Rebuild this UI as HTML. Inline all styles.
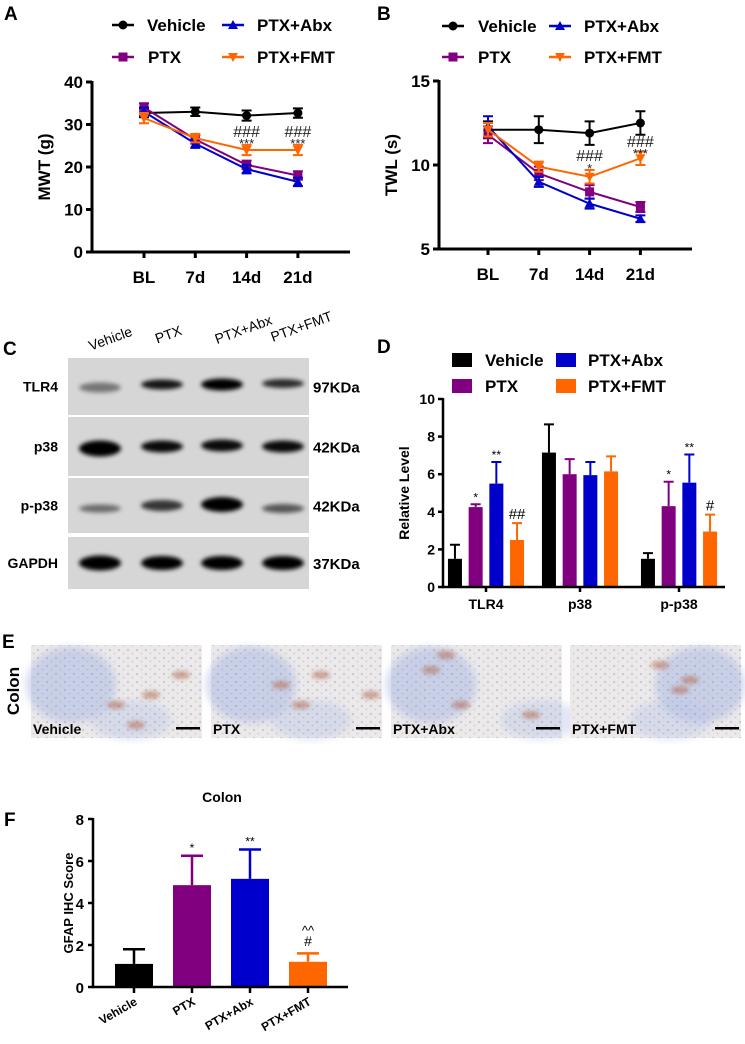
<!DOCTYPE html>
<html><head><meta charset="utf-8"><style>
body{margin:0;background:#fff}
svg{display:block;font-family:"Liberation Sans",Arial,sans-serif;font-weight:bold}
</style></head><body>
<svg id="fig" width="745" height="1044" viewBox="0 0 745 1044" xmlns="http://www.w3.org/2000/svg">
<defs>
<filter id="blur2" x="-30%" y="-100%" width="160%" height="300%"><feGaussianBlur stdDeviation="2.2"/></filter>
<filter id="blur4"><feGaussianBlur stdDeviation="4"/></filter>
<pattern id="cells" width="9" height="8" patternUnits="userSpaceOnUse">
<circle cx="2" cy="2" r="1.1" fill="#5d7fd0" fill-opacity="0.55"/>
<circle cx="6.5" cy="5.5" r="0.9" fill="#5d7fd0" fill-opacity="0.45"/>
</pattern>
</defs>
<g id="panelA"></g>
<g id="panelB"></g>
<g id="panelC"></g>
<g id="panelD"></g>
<g id="panelE"></g>
<g id="panelF"></g>
</svg>
<script>
// ---- data ----
const groups = ["Vehicle","PTX","PTX+Abx","PTX+FMT"];
const colors = ["#000000","#800080","#0000cc","#ff6600"];
const timeCats = ["BL","7d","14d","21d"];
const mwtVehicle = [32.7,33.0,32.1,32.7];
const mwtPTX = [34.0,26.5,20.5,18.0];
const mwtAbx = [33.0,25.5,19.5,16.5];
const mwtFMT = [31.5,26.8,24.0,24.0];
const mwtErr = [[1,1,1.2,1.1],[1,1,1,1],[1,1,1,1],[1.2,1,1.2,1.2]];
const mwtTicks = [0,10,20,30,40];
const twlVehicle = [12.1,12.1,11.9,12.5];
const twlPTX = [11.8,9.5,8.4,7.5];
const twlAbx = [12.3,9.0,7.7,6.8];
const twlFMT = [12.1,9.9,9.3,10.4];
const twlErr = [[0.5,0.8,0.7,0.7],[0.5,0.4,0.4,0.3],[0.6,0.3,0.3,0.2],[0.4,0.3,0.4,0.4]];
const twlTicks = [5,10,15];
const proteinCats = ["TLR4","p38","p-p38"];
const relVehicle = [1.5,7.15,1.5];
const relPTX = [4.25,6.0,4.3];
const relAbx = [5.5,5.95,5.55];
const relFMT = [2.5,6.15,2.95];
const relErrVehicle = [0.75,1.5,0.3];
const relErrPTX = [0.15,0.8,1.3];
const relErrAbx = [1.15,0.7,1.5];
const relErrFMT = [0.9,0.8,0.9];
const relTicks = [0,2,4,6,8,10];
const gfapValues = [1.1,4.85,5.15,1.2];
const gfapErr = [0.7,1.4,1.4,0.4];
const gfapTicks = [0,2,4,6,8];

const NS="http://www.w3.org/2000/svg";
function el(parent,tag,attrs,text){const e=document.createElementNS(NS,tag);for(const k in attrs)e.setAttribute(k,attrs[k]);if(text!==undefined)e.textContent=text;parent.appendChild(e);return e;}
function lin(d0,d1,r0,r1){return v=>r0+(v-d0)*(r1-r0)/(d1-d0);}

function marker(g,type,x,y,c){
  let m;
  if(type===0)m=el(g,"circle",{cx:x,cy:y,r:4.5,fill:c});
  else if(type===1)m=el(g,"rect",{x:x-4.5,y:y-4.5,width:9,height:9,fill:c});
  else if(type===2)m=el(g,"polygon",{points:`${x},${y-5} ${x-5},${y+4} ${x+5},${y+4}`,fill:c});
  else m=el(g,"polygon",{points:`${x},${y+5} ${x-5},${y-4} ${x+5},${y-4}`,fill:c});
  return m;
}

function lineChart(gid,cfg){
  const g=document.getElementById(gid);
  const y=lin(cfg.ymin,cfg.ymax,cfg.y0,cfg.y1);
  const x=i=>cfg.xs0+i*cfg.dx;
  const ya=el(g,"line",{x1:cfg.ax,y1:cfg.y1-1,x2:cfg.ax,y2:cfg.y0+1.5,stroke:"#000","stroke-width":3});
  
  
  const xa=el(g,"line",{x1:cfg.ax-1.5,y1:cfg.y0,x2:cfg.xend,y2:cfg.y0,stroke:"#000","stroke-width":3});
  
  
  cfg.ticks.forEach(t=>{
    el(g,"line",{x1:cfg.ax-6,y1:y(t),x2:cfg.ax,y2:y(t),stroke:"#000","stroke-width":3});
    const tl=el(g,"text",{x:cfg.ax-9,y:y(t)+6,"text-anchor":"end","font-size":17},String(t));
    
    
  });
  timeCats.forEach((c,i)=>{
    el(g,"line",{x1:x(i),y1:cfg.y0,x2:x(i),y2:cfg.y0+6,stroke:"#000","stroke-width":3});
    const tl=el(g,"text",{x:x(i),y:cfg.y0+31,"text-anchor":"middle","font-size":17},c);
    
    
  });
  const yt=el(g,"text",{x:0,y:0,"text-anchor":"middle","font-size":17,transform:`translate(${cfg.titleX},${(cfg.y0+cfg.y1)/2}) rotate(-90)`},cfg.title);
  
  
  [0,1,2,3].forEach(s=>{
    const vals=cfg.series[s],err=cfg.err[s],c=colors[s];
    const sg=el(g,"g",{});
    
    
    el(sg,"polyline",{points:vals.map((v,i)=>x(i)+","+y(v)).join(" "),fill:"none",stroke:c,"stroke-width":2});
    vals.forEach((v,i)=>{
      const e=err[i];
      el(sg,"path",{d:`M${x(i)},${y(v+e)}V${y(v-e)}M${x(i)-5},${y(v+e)}H${x(i)+5}M${x(i)-5},${y(v-e)}H${x(i)+5}`,stroke:c,"stroke-width":2,fill:"none"});
      const m=marker(sg,s,x(i),y(v),c);
      
      
    });
  });
  cfg.annots.forEach(a=>{
    const t=el(g,"text",{x:x(a[0]),y:a[1],"text-anchor":"middle","font-size":a[3]||13,"font-weight":"normal",fill:"#222"},a[2]);
    
    
  });
  cfg.legend.forEach((L,s)=>{
    const lg=el(g,"g",{});
    
    
    el(lg,"line",{x1:L[0],y1:L[2],x2:L[0]+22,y2:L[2],stroke:colors[s],"stroke-width":2.5});
    marker(lg,s,L[0]+11,L[2],colors[s]);
    el(lg,"text",{x:L[1],y:L[2]+6,"font-size":17},groups[s]);
  });
  const p=el(g,"text",{x:cfg.label[0],y:cfg.label[1],"font-size":19},cfg.label[2]);
  
  
}

lineChart("panelA",{ymin:0,ymax:40,y0:252,y1:82,ax:92,xend:350,xs0:144,dx:51.3,ticks:mwtTicks,
  title:"MWT (g)",titleX:50,series:[mwtVehicle,mwtPTX,mwtAbx,mwtFMT],err:mwtErr,
  annots:[[2,137,"###",16],[3,137,"###",16],[2,148,"***"],[3,148,"***"]],
  legend:[[112,147,25],[112,148,57],[222,257,25],[222,257,57]],label:[4,20,"A"]});
lineChart("panelB",{ymin:5,ymax:15,y0:249,y1:81,ax:439,xend:692,xs0:488,dx:50.8,ticks:twlTicks,
  title:"TWL (s)",titleX:397,series:[twlVehicle,twlPTX,twlAbx,twlFMT],err:twlErr,
  annots:[[2,161,"###",16],[3,147,"###",16],[2,173,"*"],[3,158,"***"]],
  legend:[[442,478,26],[442,478,57],[549,584,26],[549,584,57]],label:[377,20,"B"]});

// ---- Panel D ----
(function(){
  const g=document.getElementById("panelD");
  const y=lin(0,10,587,399);
  const ax=443, gx=[486,580,679], bw=14, bs=20.7;
  const series=[relVehicle,relPTX,relAbx,relFMT];
  const errs=[relErrVehicle,relErrPTX,relErrAbx,relErrFMT];
  series.forEach((vals,s)=>{
    vals.forEach((v,i)=>{
      const cx=gx[i]+(s-1.5)*bs, e=errs[s][i];
      el(g,"path",{d:`M${cx},${y(v)}V${y(v+e)}M${cx-5},${y(v+e)}H${cx+5}`,stroke:colors[s],"stroke-width":2});
      const b=el(g,"rect",{x:cx-bw/2,y:y(v),width:bw,height:y(0)-y(v),fill:colors[s]});
      
      
    });
  });
  el(g,"line",{x1:ax,y1:398,x2:ax,y2:588,stroke:"#000","stroke-width":2.5});
  el(g,"line",{x1:ax-1,y1:587,x2:725,y2:587,stroke:"#000","stroke-width":2.5});
  relTicks.forEach(t=>{
    el(g,"line",{x1:ax-5,y1:y(t),x2:ax,y2:y(t),stroke:"#000","stroke-width":2.5});
    const tl=el(g,"text",{x:ax-8,y:y(t)+5,"text-anchor":"end","font-size":14},String(t));
    
    
  });
  proteinCats.forEach((c,i)=>{
    el(g,"line",{x1:gx[i],y1:587,x2:gx[i],y2:592,stroke:"#000","stroke-width":2.5});
    const tl=el(g,"text",{x:gx[i],y:609,"text-anchor":"middle","font-size":14},c);
    
    
  });
  const yt=el(g,"text",{x:0,y:0,"text-anchor":"middle","font-size":14,transform:"translate(409,493) rotate(-90)"},"Relative Level");
  
  
  const ann=[[0,1,"*"],[0,2,"**"],[0,3,"##"],[2,1,"*"],[2,2,"**"],[2,3,"#"]];
  ann.forEach(a=>{
    const v=series[a[1]][a[0]]+errs[a[1]][a[0]];
    const cx=gx[a[0]]+(a[1]-1.5)*bs;
    const big=a[2].includes("#");
    const t=el(g,"text",{x:cx,y:y(v)-(big?4:3),"text-anchor":"middle","font-size":big?15:12,"font-weight":"normal"},a[2]);
    
    
  });
  const leg=[[452,485,360],[452,485,386],[556,588,360],[556,588,386]];
  leg.forEach((L,s)=>{
    const lg=el(g,"g",{});
    
    
    el(lg,"rect",{x:L[0],y:L[2]-7,width:20,height:14,fill:colors[s]});
    el(lg,"text",{x:L[1],y:L[2]+6,"font-size":17},groups[s]);
  });
  const p=el(g,"text",{x:377,y:353,"font-size":19},"D");
  
  
})();

// ---- Panel C (blot) ----
(function(){
  const g=document.getElementById("panelC");
  const lanes=[100,162,222,283];
  const strips=[[358,415,"TLR4","97KDa",[0.45,0.9,1,0.8],[8,8,10,7],[1,-2,-2,-3]],
                [417,476,"p38","42KDa",[1,0.95,0.95,0.95],[14,10,10,10],[2,0,-1,0]],
                [478,533,"p-p38","42KDa",[0.5,0.75,1,0.6],[6,9,13,7],[3,0,-1,3]],
                [537,589,"GAPDH","37KDa",[1,1,1,1],[13,12,12,12],[0,0,0,0]]];
  strips.forEach(s=>{
    const sg=el(g,"g",{});
    
    
    el(sg,"rect",{x:68,y:s[0],width:241,height:s[1]-s[0],fill:"#d6d6d6"});
    const cy=(s[0]+s[1])/2;
    lanes.forEach((lx,i)=>{
      el(sg,"ellipse",{cx:lx,cy:cy+s[6][i],rx:21,ry:s[5][i]/2+1,fill:"#000","fill-opacity":s[4][i],filter:"url(#blur2)"});
    });
    el(sg,"text",{x:58,y:cy+5,"text-anchor":"end","font-size":14},s[2]);
    el(sg,"text",{x:313,y:cy+6,"font-size":15},s[3]);
  });
  const lx=[112,170,245,303], ly=[343,339,334,331];
  groups.forEach((n,i)=>{
    const t=el(g,"text",{x:0,y:0,"text-anchor":"middle","font-size":14,"font-weight":"normal",transform:`translate(${lx[i]},${ly[i]}) rotate(-20)`},n);
    
    
  });
  const p=el(g,"text",{x:3,y:355,"font-size":19},"C");
  
  
})();

// ---- Panel E (histology) ----
(function(){
  const g=document.getElementById("panelE");
  const xs=[31,211,391,570];
  const browns=[[[85,60],[120,50],[150,30],[105,80]],[[70,40],[110,30],[160,50],[90,60]],[[55,10],[140,70],[70,60],[40,25]],[[120,35],[90,20],[110,45]]];
  xs.forEach((x0,i)=>{
    const sg=el(g,"g",{});
    
    
    el(sg,"rect",{x:x0,y:645,width:171,height:93,fill:"#ece9e8"});
    el(sg,"ellipse",{cx:x0+(i===3?130:40),cy:685,rx:45,ry:38,fill:"#9fb0e0","fill-opacity":0.45,filter:"url(#blur4)"});
    el(sg,"ellipse",{cx:x0+(i===2?150:100),cy:720,rx:40,ry:20,fill:"#b8c3e6","fill-opacity":0.4,filter:"url(#blur4)"});
    el(sg,"rect",{x:x0,y:645,width:171,height:93,fill:"url(#cells)","fill-opacity":0.6});
    browns[i].forEach(b=>el(sg,"ellipse",{cx:x0+b[0],cy:645+b[1],rx:9,ry:4,fill:"#b06a50","fill-opacity":0.55,filter:"url(#blur2)"}));
    el(sg,"text",{x:x0+2,y:734,"font-size":14},groups[i]);
    el(sg,"rect",{x:x0+145,y:727,width:24,height:2.5,fill:"#000"});
  });
  const c=el(g,"text",{x:0,y:0,"text-anchor":"middle","font-size":17,transform:"translate(19,691) rotate(-90)"},"Colon");
  
  
  const p=el(g,"text",{x:2,y:648,"font-size":19},"E");
  
  
})();

// ---- Panel F ----
(function(){
  const g=document.getElementById("panelF");
  const y=lin(0,8,987,819);
  const ax=93, bx=[134,192,250,308], bw=38;
  gfapValues.forEach((v,i)=>{
    const e=gfapErr[i];
    el(g,"path",{d:`M${bx[i]},${y(v)}V${y(v+e)}M${bx[i]-11},${y(v+e)}H${bx[i]+11}`,stroke:colors[i],"stroke-width":2.5});
    const b=el(g,"rect",{x:bx[i]-bw/2,y:y(v),width:bw,height:y(0)-y(v),fill:colors[i]});
    
    
  });
  el(g,"line",{x1:ax,y1:818,x2:ax,y2:988,stroke:"#000","stroke-width":2.5});
  el(g,"line",{x1:ax-1,y1:987,x2:348,y2:987,stroke:"#000","stroke-width":2.5});
  gfapTicks.forEach(t=>{
    el(g,"line",{x1:ax-5,y1:y(t),x2:ax,y2:y(t),stroke:"#000","stroke-width":2.5});
    const tl=el(g,"text",{x:ax-9,y:y(t)+6,"text-anchor":"end","font-size":15},String(t));
    
    
  });
  groups.forEach((n,i)=>{
    el(g,"line",{x1:bx[i],y1:987,x2:bx[i],y2:993,stroke:"#000","stroke-width":2.5});
    const tl=el(g,"text",{x:0,y:0,"text-anchor":"end","font-size":12,transform:`translate(${bx[i]+4},${1004}) rotate(-30)`},n);
    
    
  });
  const yt=el(g,"text",{x:0,y:0,"text-anchor":"middle","font-size":13,transform:"translate(73,903) rotate(-90)"},"GFAP IHC Score");
  
  
  const ti=el(g,"text",{x:222,y:802,"text-anchor":"middle","font-size":14},"Colon");
  
  
  [[1,"*",-4],[2,"**",-4]].forEach(a=>{
    const i=a[0];
    const t=el(g,"text",{x:bx[i],y:y(gfapValues[i]+gfapErr[i])+a[2],"text-anchor":"middle","font-size":12,"font-weight":"normal"},a[1]);
    
    
  });
  const t1=el(g,"text",{x:bx[3],y:946,"text-anchor":"middle","font-size":14,"font-weight":"normal"},"#");
  
  
  const t2=el(g,"text",{x:bx[3],y:935,"text-anchor":"middle","font-size":13,"font-weight":"normal"},"^^");
  
  
  const p=el(g,"text",{x:4,y:826,"font-size":19},"F");
  
  
})();
</script>
</body></html>
